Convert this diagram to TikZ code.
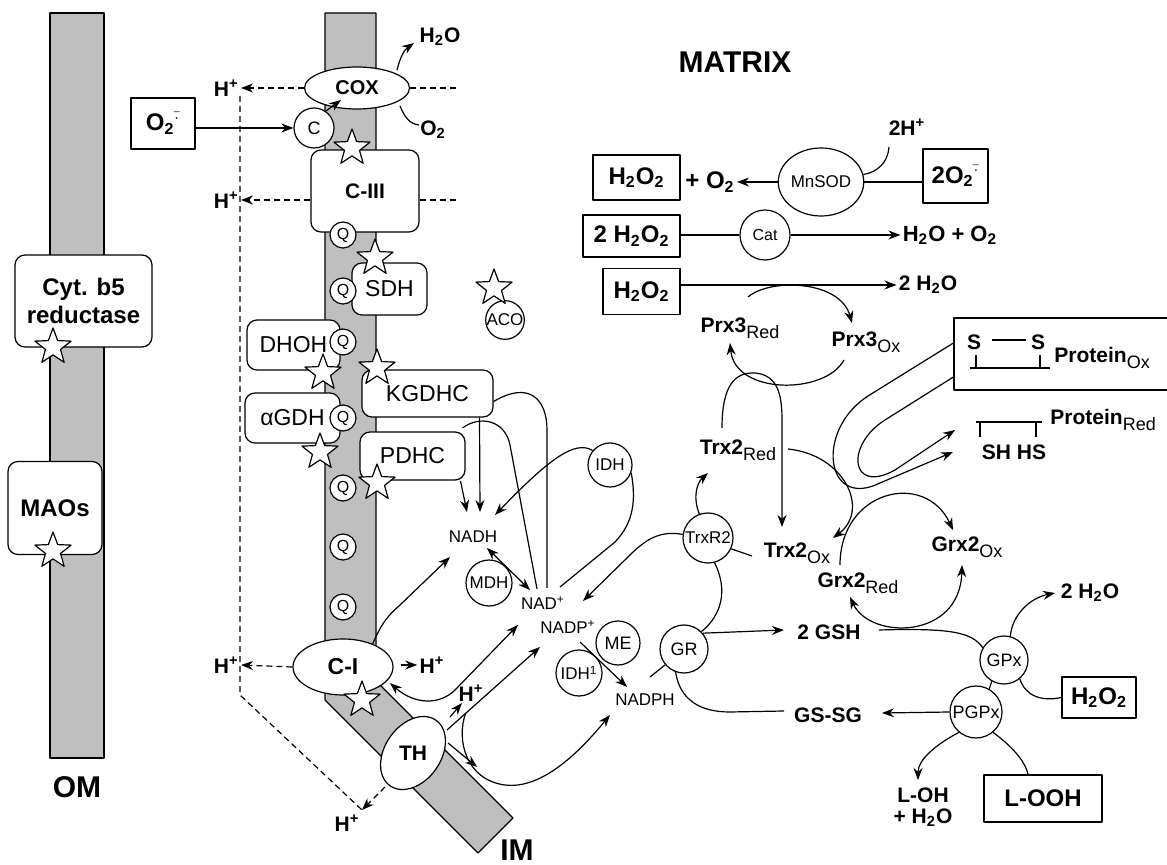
\documentclass[tikz,border=0pt]{standalone}
\usepackage{fontspec}
\setmainfont{Liberation Sans}
\usetikzlibrary{arrows.meta,positioning,calc,shapes.geometric}
\newcommand{\fsz}[2]{\fontsize{#1}{#2}\selectfont}
\newcommand{\rdx}[1]{\raisebox{-0.55ex}{\mdseries\fsz{9}{10}#1}}
\newcommand{\supox}{\textsuperscript{$\bar{\cdot}$}}
\tikzset{
  memb/.style  = {draw, line width=0.6pt, fill=gray!50},
  cplx/.style  = {draw, fill=white, rounded corners=5pt, line width=0.6pt,
                  inner sep=0pt, align=center, font=\fsz{10.5}{12}\bfseries},
  enz/.style   = {draw, fill=white, rounded corners=5pt, line width=0.6pt,
                  inner sep=0pt, font=\fsz{11.5}{12}},
  oval/.style  = {draw, ellipse, fill=white, line width=0.6pt, inner sep=0pt},
  qcirc/.style = {draw, circle, fill=white, line width=0.6pt, inner sep=0pt,
                  minimum size=13pt, font=\fsz{8}{9}},
  enzc/.style  = {draw, circle, fill=white, line width=0.6pt, inner sep=0pt,
                  font=\fsz{8.5}{9}},
  hot/.style   = {draw, fill=white, star, star points=5, star point ratio=2.4,
                  inner sep=0pt, minimum size=19pt, line width=0.6pt},
  mol/.style   = {draw, fill=white, line width=0.6pt, inner sep=0pt,
                  font=\fsz{12}{13}\bfseries},
  chem/.style  = {inner sep=1pt, font=\fsz{10.5}{12}\bfseries},
  small/.style = {inner sep=1pt, font=\fsz{8.5}{9}},
  hplus/.style = {inner sep=1pt, font=\fsz{10.5}{12}\bfseries},
  title/.style = {inner sep=1pt, font=\fsz{15}{16}\bfseries},
  sig/.style   = {-{Stealth[length=6pt,width=4.5pt]}, line width=0.6pt},
  both/.style  = {{Stealth[length=6pt,width=4.5pt]}-{Stealth[length=6pt,width=4.5pt]}, line width=0.6pt},
  link/.style  = {line width=0.6pt},
  hdash/.style = {line width=0.6pt, dash pattern=on 3pt off 2pt},
}
\begin{document}
\begin{tikzpicture}[x=0.5pt,y=-0.5pt,line join=round]
\useasboundingbox (0,0) rectangle (1167,865);
% ---------- membranes ----------
\draw[memb] (50,13) rectangle (104,758);
\draw[memb] (325,13) -- (376,13) -- (376,681) -- (513,818) -- (478,853) -- (325,700) -- cycle;
\node[title] (om) at (77,787) {OM};
\node[title] (im) at (517,850) {IM};
\node[title] (mx) at (735,62) {MATRIX};
% ---------- outer membrane ----------
\node[cplx, minimum width=68.5pt, minimum height=46pt, font=\fsz{12}{14}\bfseries] (cyt) at (83.5,301) {Cyt. b5\\reductase};
\node[hot] (sc) at (53,347) {};
\node[cplx, minimum width=47pt, minimum height=46.5pt, font=\fsz{12}{14}\bfseries] (mao) at (55,508) {MAOs};
\node[hot] (sm) at (53,551) {};
% ---------- proton leaks ----------
\node[hplus, anchor=east] (ht) at (241,88) {H\textsuperscript{+}};
\node[hplus, anchor=east] (hm) at (241,200) {H\textsuperscript{+}};
\node[hplus, anchor=east] (hl) at (241,665) {H\textsuperscript{+}};
\node[hplus] (hb) at (347,823) {H\textsuperscript{+}};
\coordinate (tipb) at ($(hb)+(15,-13)$);
\draw[hdash] ($(ht.east)+(-1,8)$) -- ($(ht.east)+(-1,607)$) -- (tipb);
% ---------- respiratory chain ----------
\node[oval, minimum width=52.5pt, minimum height=21pt, font=\fsz{10}{11}\bfseries] (cox) at (357,88) {COX};
\node[enzc, minimum size=20pt, font=\fsz{9}{10}] (cc) at (314,128) {C};
\node[mol, minimum width=32pt, minimum height=25.5pt] (sox) at (163,123.5) {O\textsubscript{2}\supox};
\node[chem] (hwo) at (440,37) {H\textsubscript{2}O};
\node[chem] (oo) at (433,130) {O\textsubscript{2}};
\node[cplx, minimum width=54pt, minimum height=41pt] (c3) at (365,191) {C-III};
\node[enz, minimum width=37.5pt, minimum height=26pt] (sdh) at (389.5,289) {SDH};
\node[enz, minimum width=46.5pt, minimum height=25pt] (dhoh) at (293.5,345) {DHOH};
\node[enz, minimum width=65.5pt, minimum height=23.5pt] (kg) at (427.5,393.5) {KGDHC};
\node[enz, minimum width=47.5pt, minimum height=25pt] (agdh) at (292.5,418) {αGDH};
\node[enz, minimum width=52.5pt, minimum height=24pt] (pdhc) at (412.5,456) {PDHC};
\node[enzc, minimum size=19pt] (aco) at (505,320) {ACO};
\node[oval, minimum width=50pt, minimum height=28pt, font=\fsz{11.5}{12}\bfseries] (c1) at (343,667) {C-I};
\node[oval, minimum width=40pt, minimum height=28pt, rotate=55] (th) at (413,753) {};
\node[chem] (thl) at (th) {TH};
\foreach \y/\n in {235/q1,291/q2,342/q3,418/q4,488/q5,547/q6,607/q7}
  \node[qcirc] (\n) at (343,\y) {Q};
\foreach \x/\y [count=\i] in {352/148,375/258,323/373,377/368,320/452,377/483,362/700,494/288}
  \node[hot] (st\i) at (\x,\y) {};
\node[hplus] (hr) at (432,665) {H\textsuperscript{+}};
\node[hplus] (hth) at (471,693) {H\textsuperscript{+}};
\draw[sig, hdash] (cox.west) -- (ht.east);
\draw[hdash] (cox.east) -- ++(47,0);
\draw[sig, hdash] (c3.west |- hm.east) -- (hm.east);
\draw[hdash] (c3.east |- hm.east) -- ++(37,0);
\draw[sig, hdash] (c1.west) -- (hl.east);
\draw[sig, hdash] ($(th)+(-28,34)$) -- (tipb);
\draw[sig] (sox.east |- cc.west) -- (cc.west);
\draw[sig] (cc.55) -- ($(cox)+(-16,12)$);
\draw[sig] ($(cox)+(40,-18)$) .. controls (400,58) and (404,50) .. ($(hwo)+(-26,6)$);
\draw[link] ($(cox)+(43,18)$) .. controls (405,118) and (410,124) .. ($(oo)+(-14,-5)$);
\draw[sig] ($(c1.east)+(7,-2)$) -- (hr.west);
\draw[sig] ($(th)+(37,-36)$) -- ($(hth)+(-9,10)$);
% ---------- NADH / NADPH ----------
\node[small] (nadh) at (473,537) {NADH};
\node[small] (nad) at (543,603) {NAD\textsuperscript{+}};
\node[small] (nadp) at (568,627) {NADP\textsuperscript{+}};
\node[small] (nadph) at (645,700) {NADPH};
\node[enzc, minimum size=23pt] (mdh) at (489,583) {MDH};
\node[enzc, minimum size=22pt] (idh) at (610,465) {IDH};
\node[enzc, minimum size=22pt, font=\fsz{9}{10}] (me) at (618,643) {ME};
\node[enzc, minimum size=23pt] (idhb) at (579,673) {IDH\textsuperscript{1}};
\node[enzc, minimum size=25pt] (tred) at (708,538) {TrxR2};
\node[enzc, minimum size=24pt, font=\fsz{9}{10}] (gr) at (684,649) {GR};
\draw[sig] ($(pdhc)+(48,25)$) -- ($(nadh)+(-6,-25)$);
\draw[sig] ($(kg)+(52,24)$) -- ($(nadh)+(7,-25)$);
\draw[sig] (idh.140) .. controls (575,440) and (550,458) .. ($(nadh)+(22,-22)$);
\draw[link] ($(kg.east)+(0,8)$) .. controls (530,380) and (547,400) .. (547,430) -- ($(nad)+(4,-15)$);
\draw[link] ($(pdhc)+(50,-28)$) .. controls (480,415) and (505,420) .. (510,445) -- ($(nad)+(-6,-14)$);
\draw[link] (idh.-20) .. controls (636,500) and (634,522) .. (615,542) -- ($(nad)+(17,-16)$);
\draw[both] ($(nadh)+(14,11)$) -- ($(nad)+(-13,-13)$);
\draw[sig] (tred.172) .. controls (660,530) and (645,540) .. (630,555) -- ($(nad)+(40,-2)$);
\draw[sig] ($(nadp)+(12,15)$) -- ($(nadph)+(-18,-13)$);
\draw[sig] (c1.38) .. controls (383,620) and (390,614) .. (400,605) -- ($(nadh)+(-23,20)$);
\draw[both] ($(c1)+(47,16)$) .. controls (415,705) and (440,705) .. (455,690) -- ($(nad)+(-25,22)$);
\draw[sig] ($(th)+(34,-23)$) -- coordinate[pos=0.2] (j1) ($(nadp)+(-28,20)$);
\draw[sig] ($(th)+(35,-10)$) -- ($(th)+(64,14)$);
\draw[sig] (j1) .. controls (456,740) and (466,780) .. (505,785) .. controls (545,790) and (585,745) .. ($(nadph)+(-35,15)$);
% ---------- ROS scavenging ----------
\node[mol, minimum width=43.5pt, minimum height=22.5pt] (hb1) at (636.5,177.5) {H\textsubscript{2}O\textsubscript{2}};
\node[chem, font=\fsz{12}{13}\bfseries] (po2) at (710,182) {+ O\textsubscript{2}};
\node[oval, minimum width=36pt, minimum height=34pt, font=\fsz{8.5}{9}] (sod) at (821,182) {MnSOD};
\node[mol, minimum width=32.5pt, minimum height=27pt] (sup2) at (955.5,176) {2O\textsubscript{2}\supox};
\node[chem] (twoh) at (907,127) {2H\textsuperscript{+}};
\draw[sig] (sod.west) -- (po2.east);
\draw[link] (sod.east) -- (sup2.west |- sod.east);
\draw[link] ($(twoh)+(-18,20)$) .. controls (888,162) and (878,172) .. (sod.10);
\node[mol, minimum width=48.5pt, minimum height=21pt] (hb2) at (631.5,236) {2 H\textsubscript{2}O\textsubscript{2}};
\node[enzc, minimum size=25pt, font=\fsz{8}{9}] (cat) at (765,235) {Cat};
\node[chem, font=\fsz{11}{12}\bfseries] (hwoo) at (950,235) {H\textsubscript{2}O + O\textsubscript{2}};
\draw[link] (hb2.east |- cat.west) -- (cat.west);
\draw[sig] (cat.east) -- (hwoo.west);
\node[mol, minimum width=38.5pt, minimum height=23pt] (hb3) at (641.5,291.5) {H\textsubscript{2}O\textsubscript{2}};
\node[chem] (twow) at (928,285) {2 H\textsubscript{2}O};
\draw[sig] (hb3.east |- twow.west) -- (twow.west);
% ---------- Prx3 / Trx2 / Grx2 ----------
\node[chem] (prxr) at (740,328) {Prx3\rdx{Red}};
\node[chem] (prxo) at (866,342) {Prx3\rdx{Ox}};
\node[chem] (trxa) at (738,450) {Trx2\rdx{Red}};
\node[chem] (trxb) at (797,553) {Trx2\rdx{Ox}};
\node[chem] (grxa) at (858,583) {Grx2\rdx{Red}};
\node[chem] (grxb) at (967,547) {Grx2\rdx{Ox}};
\draw[sig] ($(prxr)+(8,-31)$) .. controls (770,278) and (840,280) .. ($(prxo)+(-14,-19)$);
\draw[sig] ($(prxo)+(-22,18)$) .. controls (825,395) and (735,395) .. ($(prxr)+(-10,15)$);
\draw[sig] ($(trxa)+(-16,-22)$) .. controls (722,385) and (735,372) .. (755,373)
  .. controls (778,375) and (782,395) .. (782,420) -- ($(trxb)+(-15,-26)$);
\draw[sig] (tred.110) .. controls (692,495) and (698,482) .. ($(trxa)+(-30,23)$);
\draw[link] (tred.-25) -- ($(trxb)+(-45,3)$);
\draw[sig] ($(trxa)+(50,-1)$) .. controls (845,455) and (870,510) .. ($(trxb)+(36,-15)$);
\draw[sig] ($(grxa)+(-18,-18)$) .. controls (840,490) and (925,470) .. ($(grxb)+(-14,-17)$);
\draw[both] ($(grxa)+(-8,14)$) .. controls (870,640) and (960,640) .. ($(grxb)+(-5,18)$);
% ---------- protein thiols ----------
\node[draw, fill=white, line width=0.6pt, minimum width=113pt, minimum height=36pt, inner sep=0pt] (pox) at (1067,354) {};
\node[chem] (sa) at (974,342) {S};
\node[chem] (sb) at (1038,342) {S};
\draw[link, line width=0.9pt] ($(sa)+(18,-2)$) -- ($(sb)+(-12,-2)$);
\draw[link, line width=0.9pt] ($(sa)+(-4,26)$) -- ($(sb)+(12,26)$);
\draw[link, line width=0.9pt] ($(sa)+(2,26)$) -- ($(sa)+(2,13)$);
\draw[link, line width=0.9pt] ($(sb)+(2,26)$) -- ($(sb)+(2,13)$);
\node[chem, anchor=west] (protox) at (1052,358) {Protein\rdx{Ox}};
\node[chem] (shhs) at (1014,452) {SH HS};
\node[chem, anchor=west] (protred) at (1048,420) {Protein\rdx{Red}};
\draw[link, line width=0.9pt] ($(shhs)+(-38,-30)$) -- ($(shhs)+(28,-30)$);
\draw[link, line width=0.9pt] ($(shhs)+(-34,-30)$) -- ($(shhs)+(-34,-15)$);
\draw[link, line width=0.9pt] ($(shhs)+(22,-30)$) -- ($(shhs)+(22,-15)$);
\draw[sig] ($(pox.west)+(0,-11)$) -- (868,396) .. controls (815,430) and (825,510) .. (880,483) -- ($(shhs)+(-61,0)$);
\draw[sig] ($(pox.west)+(0,23)$) -- (885,420) .. controls (845,445) and (850,495) .. (895,470) -- ($(shhs)+(-59,-22)$);
% ---------- glutathione ----------
\node[chem] (gsh) at (829,632) {2 GSH};
\node[chem] (gssg) at (828,715) {GS-SG};
\node[enzc, minimum size=24pt, font=\fsz{9}{10}] (gpx) at (1004,660) {GPx};
\node[enzc, minimum size=26pt, font=\fsz{9}{10}] (pgpx) at (976,712) {PGPx};
\node[mol, minimum width=37pt, minimum height=20.5pt] (hb4) at (1099,697.5) {H\textsubscript{2}O\textsubscript{2}};
\node[chem] (twow2) at (1090,593) {2 H\textsubscript{2}O};
\node[mol, minimum width=59pt, minimum height=23.5pt] (looh) at (1043,798.5) {L-OOH};
\node[chem, align=center, font=\fsz{10.5}{10.5}\bfseries] (loh) at (923,807) {L-OH\\+ H\textsubscript{2}O};
\draw[sig] (gr.40) -- ($(gsh)+(-45,-2)$);
\draw[link] ($(gsh)+(50,-2)$) .. controls (950,628) and (972,632) .. (gpx.150);
\draw[link] (gr.-110) .. controls (680,700) and (700,712) .. (730,712) -- ($(gssg)+(-44,-4)$);
\draw[link] ($(nadph)+(5,-23)$) -- (gr.-140);
\draw[link] (tred.-75) .. controls (728,590) and (722,615) .. (gr.45);
\draw[sig] (pgpx.west) -- ($(gssg)+(54,-2)$);
\draw[link] (gpx.-120) -- (pgpx.60);
\draw[sig] (gpx.75) .. controls (1012,615) and (1030,598) .. ($(twow2)+(-35,0)$);
\draw[link] (gpx.-50) .. controls (1025,695) and (1040,702) .. (hb4.west);
\draw[sig] (pgpx.-130) .. controls (935,745) and (918,760) .. ($(loh)+(-5,-27)$);
\draw[link] (pgpx.-50) .. controls (1010,745) and (1025,760) .. ($(looh.north)+(-15,0)$);
\end{tikzpicture}
\end{document}
